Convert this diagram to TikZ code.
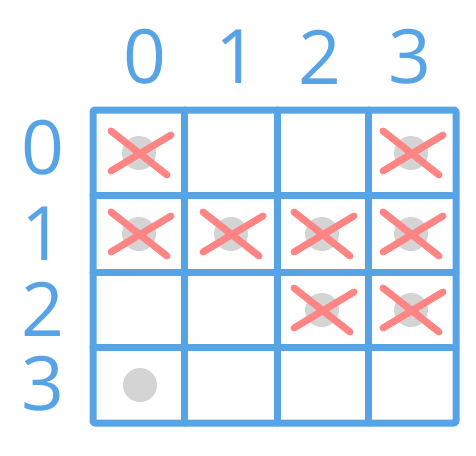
\documentclass[tikz,border=0pt]{standalone}
\usepackage{fontspec}
\setmainfont{Open Sans}
\usepackage{xcolor}
\usepackage{tikz}
\definecolor{gridblue}{HTML}{56A3E6}
\definecolor{crossred}{HTML}{FF8585}
\definecolor{dotgray}{HTML}{D4D4D4}

\begin{document}
\begin{tikzpicture}[
  x=1pt,y=-1pt,
  gridline/.style={draw=gridblue,line width=7pt,line cap=round,line join=round},
  idx/.style={text=gridblue,font=\fontsize{75}{75}\selectfont,inner sep=0pt},
  dot/.style={fill=dotgray,draw=none},
  cross/.style={draw=crossred,line width=7pt,line cap=round}
]
\useasboundingbox (0,0) rectangle (476,455);
% column and row indices
\foreach \c/\x in {0/145,1/237,2/320,3/410}
  \node[idx] (col\c) at (\x,57) {\c};
\foreach \r/\y in {0/148,1/234,2/309,3/384}
  \node[idx] (row\r) at (43,\y) {\r};
% grid
\draw[gridline,rounded corners=2pt] (93,110) rectangle (456,423);
\foreach \x in {184,277,368} \draw[gridline] (\x,110) -- (\x,423);
\foreach \y in {195,272,347} \draw[gridline] (93,\y) -- (456,\y);
% visited cells
\foreach \x/\y in {139/153,411/153,139/234,231/234,322/234,411/234,322/310,411/310,140/385}
  \fill[dot] (\x,\y) circle (17);
\foreach \x/\y in {139/153,411/153,139/234,231/234,322/234,411/234,322/310,411/310}
  \draw[cross] (\x-28,\y-22) -- (\x+28,\y+22) (\x-28,\y+18) -- (\x+32,\y-18);
\end{tikzpicture}
\end{document}
